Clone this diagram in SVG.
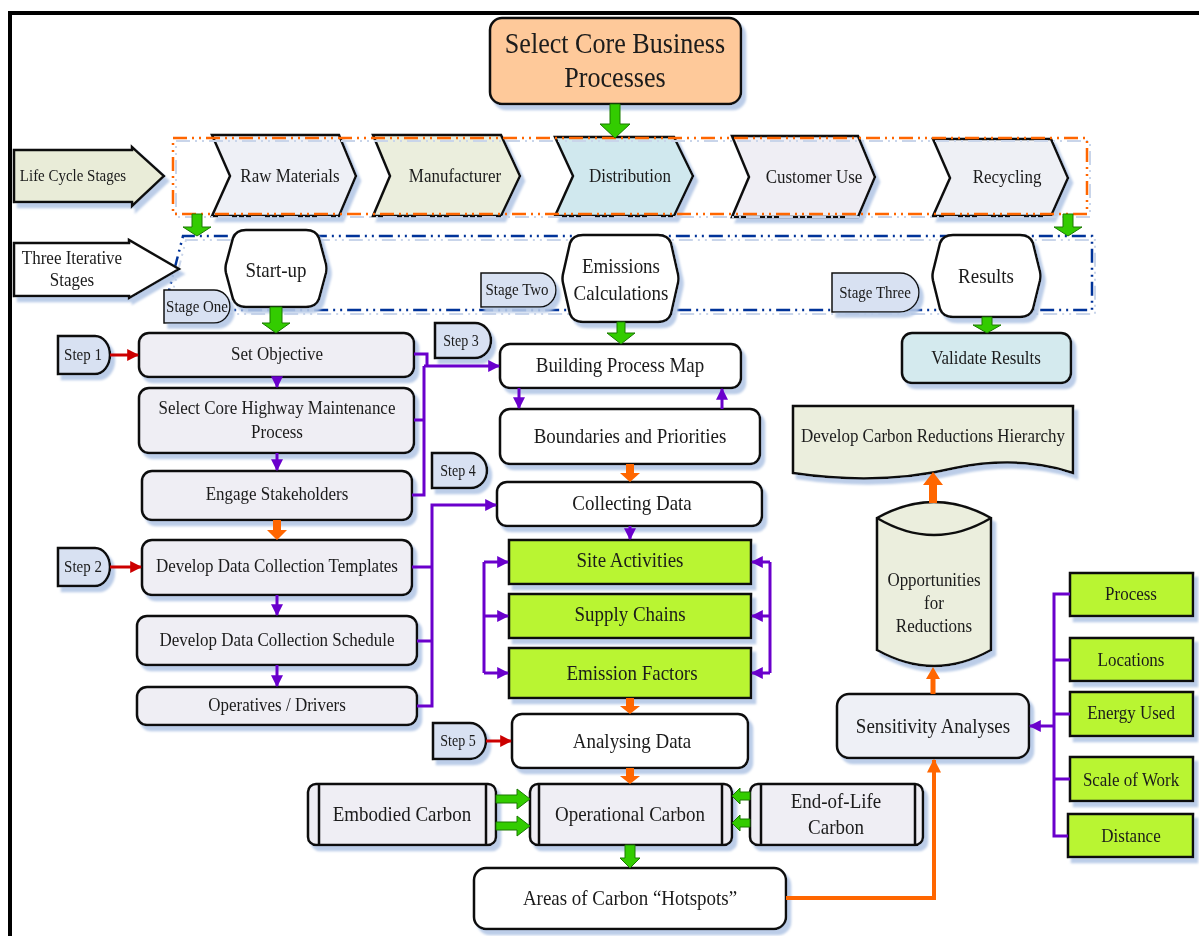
<svg xmlns="http://www.w3.org/2000/svg" width="1199" height="936" viewBox="0 0 1199 936">
  <defs>
    <filter id="sh" x="-10%" y="-10%" width="130%" height="150%">
      <feDropShadow dx="4" dy="5" stdDeviation="0.9" flood-color="#b5c8e6" flood-opacity="0.9"/>
    </filter>
    <marker id="mp" viewBox="0 0 10 10" refX="9" refY="5" markerWidth="12" markerHeight="12" markerUnits="userSpaceOnUse" orient="auto">
      <path d="M0,0 L10,5 L0,10 Z" fill="#6a00cc"/>
    </marker>
    <marker id="mr" viewBox="0 0 10 10" refX="9" refY="5" markerWidth="12" markerHeight="12" markerUnits="userSpaceOnUse" orient="auto">
      <path d="M0,0 L10,5 L0,10 Z" fill="#cc0000"/>
    </marker>
    <marker id="mo" viewBox="0 0 10 10" refX="9" refY="5" markerWidth="14" markerHeight="14" markerUnits="userSpaceOnUse" orient="auto">
      <path d="M0,0 L10,5 L0,10 Z" fill="#ff6600"/>
    </marker>
  </defs>
  <style>
    /* labels are set in a Times-style face, narrowed to 87% width */
    .t{font-family:'Liberation Serif','Times New Roman',serif;fill:#1a1a1a;text-anchor:middle}
    .s14{font-size:16.1px}
    .s15{font-size:17.2px}
    .s17{font-size:19.5px}
    .s19{font-size:21.8px}
    .s26{font-size:30px}
    .box{stroke:#111;stroke-width:2.5}
    .thin{stroke:#111;stroke-width:1.5}
    .sh{filter:url(#sh)}
    .lav{fill:#efeef4}
    .wh{fill:#ffffff}
    .lime{fill:#b9f532}
    .tag{fill:#d8e1f2}
    .pl{fill:none;stroke:#6a00cc;stroke-width:3}
    .rl{fill:none;stroke:#cc0000;stroke-width:3}
    .ol{fill:none;stroke:#ff6600;stroke-width:4}
    .ga{fill:#33cc00;stroke:#1a7a00;stroke-width:1}
    .oa{fill:#ff6600}
  </style>

  <rect width="1199" height="936" fill="#ffffff"/>

  <!-- page frame (open on the right and bottom) -->
  <path d="M10 936 V13 H1199" fill="none" stroke="#000" stroke-width="4"/>

  <!-- stage frames -->
  <g id="frames">
    <path d="M166 302 L183 236 H1092 V310 H166" fill="none" stroke="#c9d5ea" stroke-width="2" stroke-dasharray="14 5 2 5 2 5" transform="translate(3,4)"/>
    <path d="M166 302 L183 236 H1092 V310 H166" fill="none" stroke="#003399" stroke-width="2.5" stroke-dasharray="14 5 2 5 2 5"/>
  </g>

  <!-- header -->
  <g id="core-processes" class="sh">
    <rect x="490" y="18" width="251" height="86" rx="12" fill="#fec99a" class="box"/>
    <text class="t s26" transform="translate(615 53) scale(.87 1)">Select Core Business</text>
    <text class="t s26" transform="translate(615 87) scale(.87 1)">Processes</text>
  </g>

  <!-- row labels -->
  <g id="life-cycle-stages" class="sh">
    <path d="M14 150 H132 V147 L164 176 L132 206 V202 H14 Z" fill="#e9ecd8" class="box"/>
    <text class="t s15" transform="translate(73 181) scale(.87 1)">Life Cycle Stages</text>
  </g>
  <g id="three-iterative-stages" class="sh">
    <path d="M14 243 H129 V240 L179 269 L129 298 V296 H14 Z" fill="#ffffff" class="box"/>
    <text class="t s17" transform="translate(72 264) scale(.87 1)">Three Iterative</text>
    <text class="t s17" transform="translate(72 286) scale(.87 1)">Stages</text>
  </g>

  <!-- life cycle chevrons -->
  <g id="raw-materials" class="sh">
    <path d="M212 135 H339 L356 176 L339 216 H212 L230 176 Z" fill="#eef0f6" class="box"/>
    <text class="t s17" transform="translate(290 182) scale(.87 1)">Raw Materials</text>
  </g>
  <g id="manufacturer" class="sh">
    <path d="M373 135 H501 L520 176 L501 216 H373 L390 176 Z" fill="#ebeedd" class="box"/>
    <text class="t s17" transform="translate(455 182) scale(.87 1)">Manufacturer</text>
  </g>
  <g id="distribution" class="sh">
    <path d="M555 137 H674 L693 176 L674 216 H555 L573 176 Z" fill="#d0e8ee" class="box"/>
    <text class="t s17" transform="translate(630 182) scale(.87 1)">Distribution</text>
  </g>
  <g id="customer-use" class="sh">
    <path d="M732 136 H858 L875 177 L858 217 H732 L749 177 Z" fill="#efeef4" class="box"/>
    <text class="t s17" transform="translate(814 183) scale(.87 1)">Customer Use</text>
  </g>
  <g id="recycling" class="sh">
    <path d="M933 139 H1051 L1068 178 L1051 216 H933 L950 178 Z" fill="#eef0f5" class="box"/>
    <text class="t s17" transform="translate(1007 183) scale(.87 1)">Recycling</text>
  </g>

  <g id="lifecycle-frame">
    <rect x="176" y="141" width="914" height="76" fill="none" stroke="#c9d5ea" stroke-width="2" stroke-dasharray="14 5 2 5 2 5"/>
    <rect x="173" y="138" width="914" height="76" fill="none" stroke="#ff6600" stroke-width="2.5" stroke-dasharray="14 5 2 5 2 5"/>
  </g>

  <!-- iterative stages -->
  <g id="start-up" class="sh">
    <path d="M246 230 H306 Q316 230 319 238 L326 264 Q327 268.5 326 273 L319 299 Q316 307 306 307 H246 Q236 307 233 299 L226 273 Q225 268.5 226 264 L233 238 Q236 230 246 230 Z" class="box wh"/>
    <text class="t s19" transform="translate(276 277) scale(.87 1)">Start-up</text>
  </g>
  <g id="emissions-calculations" class="sh">
    <path d="M583 235 H658 Q668 235 671 243 L678 274 Q679 278.5 678 283 L671 314 Q668 322 658 322 H583 Q573 322 570 314 L563 283 Q562 278.5 563 274 L570 243 Q573 235 583 235 Z" class="box wh"/>
    <text class="t s19" transform="translate(621 273) scale(.87 1)">Emissions</text>
    <text class="t s19" transform="translate(621 300) scale(.87 1)">Calculations</text>
  </g>
  <g id="results" class="sh">
    <path d="M953 235 H1020 Q1030 235 1033 243 L1040 271.5 Q1041 276 1040 280.5 L1033 309 Q1030 317 1020 317 H953 Q943 317 940 309 L933 280.5 Q932 276 933 271.5 L940 243 Q943 235 953 235 Z" class="box wh"/>
    <text class="t s19" transform="translate(986 283) scale(.87 1)">Results</text>
  </g>

  <g id="stage-one" class="sh">
    <path d="M164 290 H214 A16 16.5 0 0 1 214 323 H164 Z" class="thin tag"/>
    <text class="t s15" transform="translate(197 312) scale(.87 1)">Stage One</text>
  </g>
  <g id="stage-two" class="sh">
    <path d="M481 273 H540 A16 17 0 0 1 540 307 H481 Z" class="thin tag"/>
    <text class="t s15" transform="translate(517 295) scale(.87 1)">Stage Two</text>
  </g>
  <g id="stage-three" class="sh">
    <path d="M832 273 H900 A19 19.5 0 0 1 900 312 H832 Z" class="thin tag"/>
    <text class="t s15" transform="translate(875 298) scale(.87 1)">Stage Three</text>
  </g>

  <!-- stage one: start-up steps -->
  <g id="step-1" class="sh">
    <path d="M58 336 H95 A15 19 0 0 1 95 374 H58 Z" class="box tag"/>
    <text class="t s15" transform="translate(83 360) scale(.87 1)">Step 1</text>
  </g>
  <g id="step-2" class="sh">
    <path d="M58 548 H95 A15 19 0 0 1 95 586 H58 Z" class="box tag"/>
    <text class="t s15" transform="translate(83 572) scale(.87 1)">Step 2</text>
  </g>
  <g id="set-objective" class="sh">
    <rect x="139" y="333" width="275" height="44" rx="10" class="box lav"/>
    <text class="t s17" transform="translate(277 360) scale(.87 1)">Set Objective</text>
  </g>
  <g id="select-core-process" class="sh">
    <rect x="139" y="388" width="275" height="65" rx="10" class="box lav"/>
    <text class="t s17" transform="translate(277 414) scale(.87 1)">Select Core Highway Maintenance</text>
    <text class="t s17" transform="translate(277 438) scale(.87 1)">Process</text>
  </g>
  <g id="engage-stakeholders" class="sh">
    <rect x="142" y="471" width="270" height="49" rx="10" class="box lav"/>
    <text class="t s17" transform="translate(277 500) scale(.87 1)">Engage Stakeholders</text>
  </g>
  <g id="data-templates" class="sh">
    <rect x="142" y="540" width="270" height="55" rx="10" class="box lav"/>
    <text class="t s17" transform="translate(277 572) scale(.87 1)">Develop Data Collection Templates</text>
  </g>
  <g id="data-schedule" class="sh">
    <rect x="137" y="616" width="280" height="49" rx="10" class="box lav"/>
    <text class="t s17" transform="translate(277 646) scale(.87 1)">Develop Data Collection Schedule</text>
  </g>
  <g id="operatives-drivers" class="sh">
    <rect x="137" y="687" width="280" height="38" rx="10" class="box lav"/>
    <text class="t s17" transform="translate(277 711) scale(.87 1)">Operatives / Drivers</text>
  </g>

  <!-- stage two: emissions calculation steps -->
  <g id="step-3" class="sh">
    <path d="M435 323 H475 A16 17.5 0 0 1 475 358 H435 Z" class="box tag"/>
    <text class="t s14" transform="translate(461 346) scale(.87 1)">Step 3</text>
  </g>
  <g id="step-4" class="sh">
    <path d="M432 453 H471 A16 17.5 0 0 1 471 488 H432 Z" class="box tag"/>
    <text class="t s14" transform="translate(458 476) scale(.87 1)">Step 4</text>
  </g>
  <g id="step-5" class="sh">
    <path d="M433 723 H470 A16 18 0 0 1 470 759 H433 Z" class="box tag"/>
    <text class="t s14" transform="translate(458 746) scale(.87 1)">Step 5</text>
  </g>
  <g id="building-process-map" class="sh">
    <rect x="500" y="344" width="241" height="44" rx="10" class="box wh"/>
    <text class="t s19" transform="translate(620 372) scale(.87 1)">Building Process Map</text>
  </g>
  <g id="boundaries-priorities" class="sh">
    <rect x="500" y="409" width="260" height="55" rx="10" class="box wh"/>
    <text class="t s19" transform="translate(630 443) scale(.87 1)">Boundaries and Priorities</text>
  </g>
  <g id="collecting-data" class="sh">
    <rect x="497" y="482" width="265" height="44" rx="10" class="box wh"/>
    <text class="t s19" transform="translate(632 510) scale(.87 1)">Collecting Data</text>
  </g>
  <g id="site-activities" class="sh">
    <rect x="509" y="540" width="242" height="44" class="box lime"/>
    <text class="t s19" transform="translate(630 567) scale(.87 1)">Site Activities</text>
  </g>
  <g id="supply-chains" class="sh">
    <rect x="509" y="594" width="242" height="44" class="box lime"/>
    <text class="t s19" transform="translate(630 621) scale(.87 1)">Supply Chains</text>
  </g>
  <g id="emission-factors" class="sh">
    <rect x="509" y="648" width="242" height="50" class="box lime"/>
    <text class="t s19" transform="translate(632 680) scale(.87 1)">Emission Factors</text>
  </g>
  <g id="analysing-data" class="sh">
    <rect x="512" y="714" width="236" height="54" rx="10" class="box wh"/>
    <text class="t s19" transform="translate(632 748) scale(.87 1)">Analysing Data</text>
  </g>
  <g id="embodied-carbon" class="sh">
    <rect x="308" y="784" width="188" height="61" rx="8" class="box lav"/>
    <path d="M319 784 V845 M486 784 V845" class="box" fill="none"/>
    <text class="t s19" transform="translate(402 821) scale(.87 1)">Embodied Carbon</text>
  </g>
  <g id="operational-carbon" class="sh">
    <rect x="530" y="784" width="202" height="61" rx="8" class="box lav"/>
    <path d="M539 784 V845 M722 784 V845" class="box" fill="none"/>
    <text class="t s19" transform="translate(630 821) scale(.87 1)">Operational Carbon</text>
  </g>
  <g id="end-of-life-carbon" class="sh">
    <rect x="750" y="784" width="173" height="61" rx="8" class="box lav"/>
    <path d="M761 784 V845 M915 784 V845" class="box" fill="none"/>
    <text class="t s19" transform="translate(836 808) scale(.87 1)">End-of-Life</text>
    <text class="t s19" transform="translate(836 834) scale(.87 1)">Carbon</text>
  </g>
  <g id="carbon-hotspots" class="sh">
    <rect x="474" y="868" width="312" height="61" rx="12" class="box wh"/>
    <text class="t s19" transform="translate(630 905) scale(.87 1)">Areas of Carbon “Hotspots”</text>
  </g>

  <!-- stage three: results -->
  <g id="validate-results" class="sh">
    <rect x="902" y="333" width="169" height="50" rx="10" fill="#d4eaee" class="box"/>
    <text class="t s17" transform="translate(986 364) scale(.87 1)">Validate Results</text>
  </g>
  <g id="reductions-hierarchy" class="sh">
    <path d="M793 406 H1073 V473 Q1020 455 955 468 Q880 486 793 473 Z" fill="#ebeedd" class="box"/>
    <text class="t s17" transform="translate(933 442) scale(.87 1)">Develop Carbon Reductions Hierarchy</text>
  </g>
  <g id="reduction-opportunities" class="sh">
    <path d="M877 518 Q934 486 991 518 V650 Q934 682 877 650 Z" fill="#ebeedd" class="box"/>
    <path d="M877 518 Q934 552 991 518" fill="none" class="box"/>
    <text class="t s17" transform="translate(934 586) scale(.87 1)">Opportunities</text>
    <text class="t s17" transform="translate(934 609) scale(.87 1)">for</text>
    <text class="t s17" transform="translate(934 632) scale(.87 1)">Reductions</text>
  </g>
  <g id="sensitivity-analyses" class="sh">
    <rect x="837" y="694" width="192" height="64" rx="12" fill="#eef0f6" class="box"/>
    <text class="t s19" transform="translate(933 733) scale(.87 1)">Sensitivity Analyses</text>
  </g>
  <g id="process" class="sh">
    <rect x="1070" y="573" width="123" height="43" class="box lime"/>
    <text class="t s17" transform="translate(1131 600) scale(.87 1)">Process</text>
  </g>
  <g id="locations" class="sh">
    <rect x="1070" y="638" width="123" height="43" class="box lime"/>
    <text class="t s17" transform="translate(1131 666) scale(.87 1)">Locations</text>
  </g>
  <g id="energy-used" class="sh">
    <rect x="1070" y="692" width="123" height="44" class="box lime"/>
    <text class="t s17" transform="translate(1131 719) scale(.87 1)">Energy Used</text>
  </g>
  <g id="scale-of-work" class="sh">
    <rect x="1070" y="757" width="123" height="44" class="box lime"/>
    <text class="t s17" transform="translate(1131 786) scale(.87 1)">Scale of Work</text>
  </g>
  <g id="distance" class="sh">
    <rect x="1068" y="814" width="125" height="43" class="box lime"/>
    <text class="t s17" transform="translate(1131 842) scale(.87 1)">Distance</text>
  </g>

  <!-- connectors -->
  <g id="connectors">
    <!-- green block arrows -->
    <polygon class="ga" points="610,104 620,104 620,124 630,124 615,138 600,124 610,124"/>
    <polygon class="ga" points="192,214 202,214 202,227 211,227 197,236 183,227 192,227"/>
    <polygon class="ga" points="1063,214 1073,214 1073,227 1082,227 1068,236 1054,227 1063,227"/>
    <polygon class="ga" points="270,307 282,307 282,323 290,323 276,333 262,323 270,323"/>
    <polygon class="ga" points="617,322 625,322 625,333 635,333 621,344 607,333 617,333"/>
    <polygon class="ga" points="982,317 992,317 992,325 1001,325 987,333 973,325 982,325"/>
    <polygon class="ga" points="625,845 635,845 635,858 640,858 630,868 620,858 625,858"/>
    <polygon class="ga" points="496,795 517,795 517,789 530,799 517,809 517,803 496,803"/>
    <polygon class="ga" points="496,822 517,822 517,816 530,826 517,836 517,830 496,830"/>
    <polygon class="ga" points="750,792 740,792 740,788 732,796 740,804 740,800 750,800"/>
    <polygon class="ga" points="750,819 740,819 740,815 732,823 740,831 740,827 750,827"/>

    <!-- orange block arrows -->
    <polygon class="oa" points="273,520 281,520 281,530 287,530 277,540 267,530 273,530"/>
    <polygon class="oa" points="626,464 634,464 634,473 640,473 630,482 620,473 626,473"/>
    <polygon class="oa" points="626,698 634,698 634,706 640,706 630,714 620,706 626,706"/>
    <polygon class="oa" points="626,768 634,768 634,776 640,776 630,784 620,776 626,776"/>
    <polygon class="oa" points="929,503 937,503 937,485 943,485 933,472 923,485 929,485"/>
    <polygon class="oa" points="930.5,694 935.5,694 935.5,679 940,679 933,667 926,679 930.5,679"/>
    <path class="ol" d="M786 898 H934 V760" marker-end="url(#mo)"/>

    <!-- red step arrows -->
    <path class="rl" d="M110 355 H138" marker-end="url(#mr)"/>
    <path class="rl" d="M110 567 H141" marker-end="url(#mr)"/>
    <path class="rl" d="M486 741 H511" marker-end="url(#mr)"/>

    <!-- purple flow arrows -->
    <path class="pl" d="M277 377 V387" marker-end="url(#mp)"/>
    <path class="pl" d="M277 453 V470" marker-end="url(#mp)"/>
    <path class="pl" d="M277 595 V615" marker-end="url(#mp)"/>
    <path class="pl" d="M277 665 V686" marker-end="url(#mp)"/>
    <path class="pl" d="M519 388 V408" marker-end="url(#mp)"/>
    <path class="pl" d="M722 409 V389" marker-end="url(#mp)"/>
    <path class="pl" d="M630 526 V539" marker-end="url(#mp)"/>

    <!-- start-up steps feed the process map -->
    <path class="pl" d="M414 354 H427 V366"/>
    <path class="pl" d="M414 420 H424"/>
    <path class="pl" d="M412 495 H424 V366"/>
    <path class="pl" d="M424 366 H499" marker-end="url(#mp)"/>

    <!-- data collection steps feed collecting data -->
    <path class="pl" d="M412 567 H432"/>
    <path class="pl" d="M417 641 H432"/>
    <path class="pl" d="M417 706 H432 V505 H496" marker-end="url(#mp)"/>

    <!-- data sources -->
    <path class="pl" d="M484 562 V673"/>
    <path class="pl" d="M484 562 H508" marker-end="url(#mp)"/>
    <path class="pl" d="M484 616 H508" marker-end="url(#mp)"/>
    <path class="pl" d="M484 673 H508" marker-end="url(#mp)"/>
    <path class="pl" d="M770 562 V673"/>
    <path class="pl" d="M770 562 H752" marker-end="url(#mp)"/>
    <path class="pl" d="M770 616 H752" marker-end="url(#mp)"/>
    <path class="pl" d="M770 673 H752" marker-end="url(#mp)"/>

    <!-- sensitivity factors -->
    <path class="pl" d="M1070 594 H1054 V836 H1068"/>
    <path class="pl" d="M1054 660 H1070 M1054 714 H1070 M1054 779 H1070"/>
    <path class="pl" d="M1054 726 H1030" marker-end="url(#mp)"/>
  </g>
</svg>
